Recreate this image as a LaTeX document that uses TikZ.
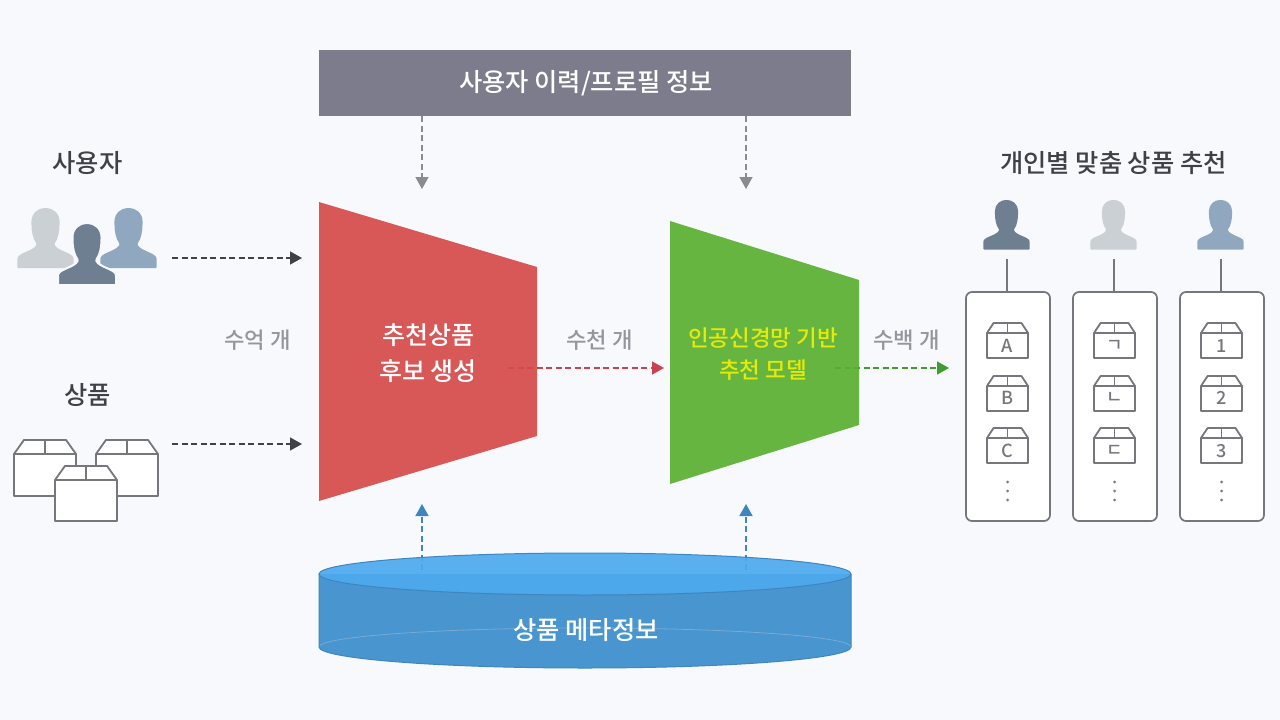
\documentclass[tikz,border=0pt]{standalone}
\usepackage{fontspec}
\setmainfont{Noto Sans CJK KR Medium}
\usetikzlibrary{arrows.meta}
\definecolor{bgc}{HTML}{F8F9FD}
\definecolor{barc}{HTML}{7C7C8C}
\definecolor{redc}{HTML}{D64B4B}
\definecolor{greenc}{HTML}{59B030}
\definecolor{cyltop}{HTML}{4DA9EE}
\definecolor{cylside}{HTML}{4895CF}
\definecolor{cyledge}{HTML}{3F86BE}
\definecolor{txt}{HTML}{3F4148}
\definecolor{grayt}{HTML}{94959D}
\definecolor{boxl}{HTML}{76777C}
\definecolor{pdark}{HTML}{6E7F91}
\definecolor{plight}{HTML}{CBD0D4}
\definecolor{pblue}{HTML}{8FA8BF}
\definecolor{arrowr}{HTML}{C8434F}
\definecolor{arrowg}{HTML}{3F9E2B}
\definecolor{arrowgr}{HTML}{8A8B90}
\tikzset{
 lbl/.style={font=\fontsize{25.3}{29}\selectfont,text=txt,inner sep=0pt},
 cnt/.style={font=\fontsize{22.3}{27}\selectfont,text=grayt,inner sep=0pt},
 inbox/.style={font=\fontsize{25}{36}\selectfont,inner sep=0pt,align=center},
 flow/.style={dash pattern=on 6pt off 3.5pt,line width=1.5pt,-{Triangle[length=12pt,width=13pt]}},
 panel/.style={draw=boxl,line width=1.7pt,rounded corners=6pt,fill=white,outer sep=0pt},
 link/.style={draw=boxl,line width=1.7pt},
 boxline/.style={draw=boxl,line width=1.8pt,line join=round},
 boxtxt/.style={font=\fontsize{18}{20}\selectfont,text=boxl,inner sep=0pt},
 solidshape/.style={fill opacity=.92}
}
% person icon: #1 centre x, #2 top y, #3 scale, #4 look
\newcommand\personicon[4]{%
 \begin{scope}[shift={(#1,#2)},scale=#3]
  \path[#4,rounded corners=1pt] (-29,62) -- (-29,52)
   .. controls (-27,46) and (-12,44) .. (-9,37)
   .. controls (-13,32) and (-14.5,24) .. (-14.5,15)
   .. controls (-14.5,5) and (-7,0) .. (0,0)
   .. controls (7,0) and (14.5,5) .. (14.5,15)
   .. controls (14.5,24) and (13,32) .. (9,37)
   .. controls (12,44) and (27,46) .. (29,52) -- (29,62) -- cycle;
 \end{scope}}
% box icon: #1 left x, #2 top y, #3 width, #4 height, #5 lid height
\newcommand\boxicon[5]{%
 \begin{scope}[shift={(#1,#2)}]
  \filldraw[boxline,fill=white] (0,#5) -- ({#3*0.16},0) -- ({#3*0.84},0) -- (#3,#5) -- (#3,#4) -- (0,#4) -- cycle;
  \draw[boxline] (0,#5) -- (#3,#5);
  \draw[boxline] ({#3*0.5},0) -- ({#3*0.5},#5);
 \end{scope}}
% one result panel: #1 panel left x, #2 name, #3 #4 #5 labels
\newcommand\respanel[5]{%
 \node[panel,minimum width=84pt,minimum height=229pt,anchor=north west,inner sep=0pt] (#2) at (#1,292) {};
 \boxicon{#1+21}{323}{41}{35}{10}
 \boxicon{#1+21}{376}{41}{35}{10}
 \boxicon{#1+21}{428}{41}{35}{10}
 \node[boxtxt] at (#1+41.5,346) {#3};
 \node[boxtxt] at (#1+41.5,398) {#4};
 \node[boxtxt] at (#1+41.5,451) {#5};
 \foreach \dy in {482,491,500} \fill[boxl] (#1+41.5,\dy) circle (1.5pt);
}
\begin{document}
\begin{tikzpicture}[x=1pt,y=-1pt]
\useasboundingbox (0,0) rectangle (1280,720);
\fill[bgc] (0,0) rectangle (1280,720);

% top bar
\node[fill=barc,minimum width=532pt,minimum height=66pt,inner sep=0pt,text=white,font=\fontsize{25.3}{29}\selectfont] (bar) at (585,83) {\hspace{2pt}사용자 이력/프로필 정보};

% left labels
\node[lbl] (users) at (87.5,163) {사용자};
\node[lbl] (items) at (87.5,395) {상품};
\node[cnt] (c1) at (257.5,340) {수억 개};
\node[cnt] (c2) at (599.5,340) {수천 개};
\node[cnt] (c3) at (906.5,340) {수백 개};
\node[lbl] (title) at (1113.5,163) {개인별 맞춤 상품 추천};

% left persons
\personicon{45.5}{208}{0.97}{fill=plight}
\personicon{128.5}{208}{0.97}{fill=pblue}
\personicon{87}{223}{1}{fill=pdark,draw=bgc,line width=2pt}

% left boxes
\boxicon{14}{440}{62}{56}{14}
\boxicon{96}{440}{62}{56}{14}
\boxicon{55}{466}{62}{55}{14}

% connector ends
\coordinate (a1) at (172,258); \coordinate (a2) at (302,258);
\coordinate (b1) at (172,444); \coordinate (b2) at (302,444);
\coordinate (d1) at (422,116); \coordinate (d2) at (422,189);
\coordinate (e1) at (746,116); \coordinate (e2) at (746,189);
\coordinate (u1) at (422,570); \coordinate (u2) at (422,504);
\coordinate (v1) at (746,570); \coordinate (v2) at (746,504);
\coordinate (r1) at (508,368); \coordinate (r2) at (664,368);
\coordinate (g1) at (835,368); \coordinate (g2) at (949,368);

\draw[flow,color=txt] (a1) -- (a2);
\draw[flow,color=txt] (b1) -- (b2);
\draw[flow,color=arrowgr] (d1) -- (d2);
\draw[flow,color=arrowgr] (e1) -- (e2);
\draw[flow,color=cyledge] (u1) -- (u2);
\draw[flow,color=cyledge] (v1) -- (v2);
\draw[flow,color=arrowr] (r1) -- (r2);
\draw[flow,color=arrowg] (g1) -- (g2);

% trapezoids
\fill[redc,solidshape] (319,202) -- (537,267) -- (537,436) -- (319,501) -- cycle;
\fill[greenc,solidshape] (670,221) -- (859,280) -- (859,425) -- (670,484) -- cycle;
\node[inbox,text=white] (cand) at (428,353) {추천상품\\후보 생성};
\node[inbox,text=yellow!90!green,font=\fontsize{22.5}{32}\selectfont] (model) at (763,354) {인공신경망 기반\\추천 모델};

% cylinder
\fill[cylside] (319,574) -- (319,647) arc[start angle=180,end angle=0,x radius=266,y radius=21] -- (851,574) -- cycle;
\draw[cyledge!70,line width=.8pt] (319,647) arc[start angle=180,end angle=360,x radius=266,y radius=19];
\draw[cyledge,line width=1pt] (319,574) -- (319,647) arc[start angle=180,end angle=0,x radius=266,y radius=21] -- (851,574);
\filldraw[fill=cyltop,draw=cyledge,line width=1pt,solidshape] (585,574) ellipse[x radius=266,y radius=21];
\node[font=\fontsize{25.3}{29}\selectfont,text=white,inner sep=0pt] (meta) at (586,630) {상품 메타정보};

% right column
\personicon{1006.5}{200}{0.8}{fill=pdark}
\personicon{1113.5}{200}{0.8}{fill=plight}
\personicon{1220.5}{200}{0.8}{fill=pblue}
\respanel{966}{p1}{A}{B}{C}
\respanel{1073}{p2}{ㄱ}{ㄴ}{ㄷ}
\respanel{1180}{p3}{1}{2}{3}
\coordinate (q1) at (1007,259);
\coordinate (q2) at (1114,259);
\coordinate (q3) at (1221,259);
\draw[link] (q1) -- (q1 |- p1.north);
\draw[link] (q2) -- (q2 |- p2.north);
\draw[link] (q3) -- (q3 |- p3.north);
\end{tikzpicture}
\end{document}
